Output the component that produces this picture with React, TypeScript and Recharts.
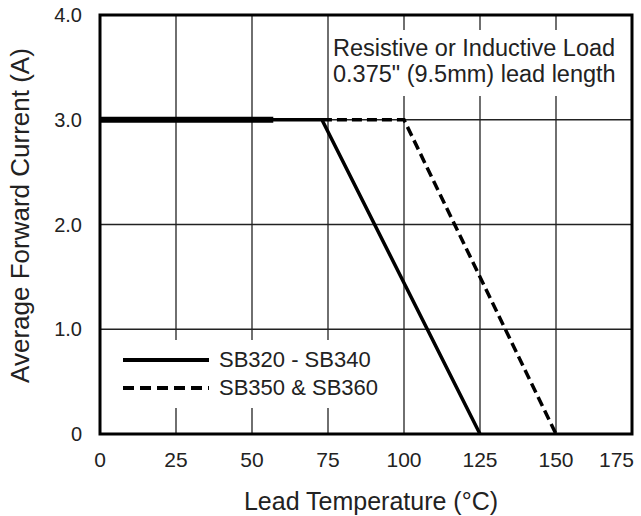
import React from 'react';
import {
  LineChart,
  Line,
  XAxis,
  YAxis,
  CartesianGrid,
  ReferenceArea,
  Legend,
} from 'recharts';

// lead temperature (°C) vs average forward current (A)
const sb320Temp = [0, 73, 125];
const sb320Current = [3, 3, 0];
const sb350Temp = [73, 100, 150];
const sb350Current = [3, 3, 0];
// heavier stroke where both curves overlap on the flat part
const overlapTemp = [0, 57];
const overlapCurrent = [3, 3];

const xTicks = [0, 25, 50, 75, 100, 125, 150, 175];
const yTicks = [0, 1, 2, 3, 4];

const seriesNames = ['SB320 - SB340', 'SB350 & SB360'];
const noteLines = ['Resistive or Inductive Load', '0.375" (9.5mm) lead length'];

const FONT = '"Liberation Sans", Arial, Helvetica, sans-serif';
const INK = '#222';

const toPoints = (t: number[], c: number[]) => t.map((temp, i) => ({ temp, current: c[i] }));

const sb320Data = toPoints(sb320Temp, sb320Current);
const sb350Data = toPoints(sb350Temp, sb350Current);
const overlapData = toPoints(overlapTemp, overlapCurrent);

function TempTick(props: any) {
  const { x, y, payload, index } = props;
  // keep the last label inside the frame
  const last = index === xTicks.length - 1;
  return (
    <text x={last ? x + 5 : x} y={y} dy="0.71em" textAnchor={last ? 'end' : 'middle'} fontSize={21} fill={INK}>
      {payload.value}
    </text>
  );
}

function CurrentLabel({ viewBox }: any) {
  const cx = 20;
  const cy = viewBox.y + viewBox.height / 2 - 9;
  return (
    <text x={cx} y={cy} transform={`rotate(-90 ${cx} ${cy})`} textAnchor="middle" dominantBaseline="central" fontSize={26} fill={INK}>
      Average Forward Current (A)
    </text>
  );
}

function DerateLegend() {
  return (
    <div style={{ background: '#fff', width: 287, height: 68, paddingLeft: 18, paddingTop: 6, boxSizing: 'border-box', fontFamily: FONT, fontSize: 22, color: INK }}>
      {seriesNames.map((name, i) => (
        <div key={name} style={{ display: 'flex', alignItems: 'center', height: 28 }}>
          <svg width={86} height={8} style={{ marginRight: 10 }}>
            <line x1={0} y1={4} x2={86} y2={4} stroke="#000" strokeWidth={4} strokeDasharray={i === 1 ? '11 6' : undefined} />
          </svg>
          <span>{name}</span>
        </div>
      ))}
    </div>
  );
}

export default function App() {
  return (
    <div style={{ position: 'absolute', left: 0, top: 0, width: 641, height: 516, background: '#fff' }}>
      <LineChart width={641} height={516} margin={{ top: 15, right: 9, left: 0, bottom: 0 }} style={{ fontFamily: FONT }}>
        <CartesianGrid stroke={INK} strokeWidth={1.3} />
        <XAxis
          dataKey="temp"
          type="number"
          domain={[0, 175]}
          ticks={xTicks}
          height={82}
          axisLine={false}
          tickLine={false}
          tickSize={0}
          tickMargin={18}
          tick={<TempTick />}
          label={{ value: 'Lead Temperature (°C)', position: 'insideBottom', offset: 6, dx: 5, style: { fontSize: 25, fill: INK } }}
        />
        <YAxis
          type="number"
          domain={[0, 4]}
          ticks={yTicks}
          width={100}
          axisLine={false}
          tickLine={false}
          tickSize={0}
          tickMargin={18}
          tickFormatter={(v: number) => (v === 0 ? '0' : v.toFixed(1))}
          tick={{ fontSize: 20, fill: INK }}
          label={<CurrentLabel />}
        />
        <ReferenceArea x1={0} x2={175} y1={0} y2={4} fill="none" stroke="#000" strokeWidth={3} ifOverflow="visible" />
        <Legend
          verticalAlign="middle"
          align="center"
          layout="horizontal"
          wrapperStyle={{ left: 105, top: 340, width: 287 }}
          content={() => <DerateLegend />}
        />
        <Line data={overlapData} dataKey="current" name="overlap" type="linear" stroke="#000" strokeWidth={6} dot={false} legendType="none" isAnimationActive={false} />
        <Line data={sb320Data} dataKey="current" name={seriesNames[0]} type="linear" stroke="#000" strokeWidth={3.5} dot={false} isAnimationActive={false} />
        <Line data={sb350Data} dataKey="current" name={seriesNames[1]} type="linear" stroke="#000" strokeWidth={3.5} strokeDasharray="10 5" dot={false} isAnimationActive={false} />
      </LineChart>
      <div
        style={{
          position: 'absolute',
          left: 330,
          top: 30,
          width: 300,
          height: 66,
          paddingTop: 5,
          paddingLeft: 3,
          boxSizing: 'border-box',
          background: '#fff',
          fontFamily: FONT,
          fontSize: 23.5,
          lineHeight: '26px',
          color: INK,
        }}
      >
        {noteLines.map((line) => (
          <div key={line}>{line}</div>
        ))}
      </div>
    </div>
  );
}
